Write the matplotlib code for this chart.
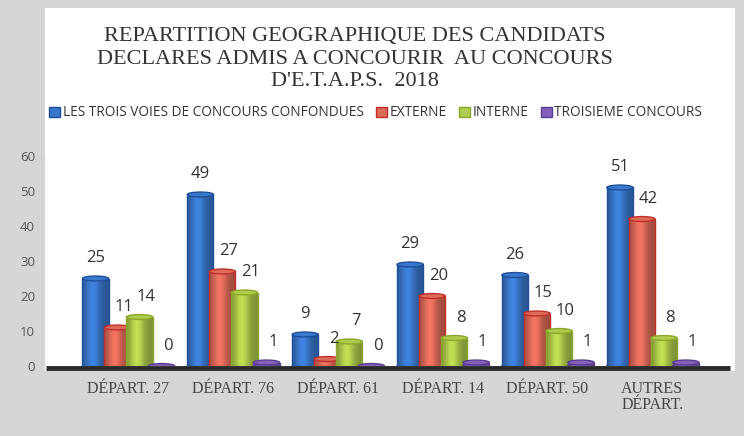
import matplotlib
matplotlib.use("Agg")
import matplotlib.pyplot as plt
import numpy as np
from matplotlib.patches import Ellipse, Rectangle
from matplotlib.colors import to_rgb

categories = ["DÉPART. 27", "DÉPART. 76", "DÉPART. 61", "DÉPART. 14", "DÉPART. 50", "AUTRES\nDÉPART."]
toutes = [25, 49, 9, 29, 26, 51]
externe = [11, 27, 2, 20, 15, 42]
interne = [14, 21, 7, 8, 10, 8]
troisieme = [0, 1, 0, 1, 1, 1]
noms = ["LES TROIS VOIES DE CONCOURS CONFONDUES", "EXTERNE", "INTERNE", "TROISIEME CONCOURS"]
couleurs = ["#3a78cc", "#de6a58", "#b0cc4c", "#8462bc"]
bords = ["#1f4f9a", "#c0302a", "#8aa82a", "#5a3c90"]

fig = plt.figure(figsize=(7.44, 4.36), dpi=100)
fig.patch.set_facecolor("#d6d6d6")
# zone blanche du graphique scanne
fig.patches.append(Rectangle((45 / 744, 1 - 371 / 436), 690 / 744, 363 / 436,
                             transform=fig.transFigure, facecolor="white",
                             edgecolor="none", zorder=-10))

ax = fig.add_axes([42 / 744, 1 - 366 / 436, 688 / 744, 210 / 436])
ax.set_facecolor("none")
ax.set_xlim(-0.82, 5.74)
ax.set_ylim(0, 60)

x = np.arange(len(categories))
series = [toutes, externe, interne, troisieme]
decalages = [-0.31, -0.10, 0.11, 0.32]
largeur = 0.25
cap = 1.4

# profil d'ombre pour l'effet cylindre
prof = np.linspace(-1, 1, 64)
ombre = 0.72 + 0.38 * np.exp(-((prof + 0.2) ** 2) / 0.3)

for k, vals in enumerate(series):
    base = np.array(to_rgb(couleurs[k]))
    img = np.clip(base[None, None, :] * ombre[None, :, None], 0, 1)
    for i, v in enumerate(vals):
        xc = x[i] + decalages[k]
        x0, x1 = xc - largeur / 2, xc + largeur / 2
        z = 3 + k
        if v > 0:
            im = ax.imshow(img, extent=(x0, x1, 0, v), aspect="auto",
                           origin="lower", zorder=z)
            clip = Rectangle((x0, 0), largeur, v, transform=ax.transData)
            im.set_clip_path(clip)
            ax.add_patch(Rectangle((x0, 0), largeur, v, facecolor="none",
                                   edgecolor=bords[k], lw=1.0, zorder=z))
            ax.add_patch(Ellipse((xc, 0), largeur, cap, facecolor=couleurs[k],
                                 edgecolor=bords[k], lw=1.0, zorder=z - 0.1))
        ax.add_patch(Ellipse((xc, v), largeur, cap, facecolor=couleurs[k],
                             edgecolor=bords[k], lw=1.0, zorder=z + 0.1))
        dx = 0 if k == 0 else 0.06
        ax.text(xc + dx, v + 5.8, str(v), ha="center", va="center",
                fontsize=12, color="#333333", family="Open Sans",
                zorder=10, clip_on=False)

# ligne de base sombre
ax.plot([-0.78, 5.74], [-0.6, -0.6], color="#2a2a2a", lw=3.5,
        solid_capstyle="butt", clip_on=False, zorder=2)

for s in ["top", "right", "bottom"]:
    ax.spines[s].set_visible(False)
ax.spines["left"].set_color("#cfcfcf")
ax.set_yticks(range(0, 61, 10))
ax.tick_params(axis="y", length=0, labelsize=9.5, labelcolor="#555555", pad=5)
ax.set_xticks(x)
ax.set_xticklabels(categories, family="Liberation Serif", fontsize=11.5,
                   color="#444444", linespacing=0.95)
ax.tick_params(axis="x", length=0, pad=11)
for lab in ax.get_yticklabels():
    lab.set_family("Open Sans")

fig.text(0.477, 1 - 27 / 436, "REPARTITION GEOGRAPHIQUE DES CANDIDATS\n"
         "DECLARES ADMIS A CONCOURIR  AU CONCOURS\nD'E.T.A.P.S.  2018",
         ha="center", va="top", family="Liberation Serif", fontsize=16,
         color="#333333", linespacing=1.26)

handles = [Rectangle((0, 0), 1, 1, facecolor=couleurs[k], edgecolor=bords[k])
           for k in range(4)]
fig.legend(handles, noms, loc="center", bbox_to_anchor=(0.505, 1 - 113 / 436),
           ncol=4, frameon=False, handlelength=0.8,
           handleheight=0.8, handletextpad=0.2, columnspacing=0.9,
           prop={"family": "Open Sans", "size": 9.8})
for t in fig.legends[0].get_texts():
    t.set_color("#333333")

fig.savefig("out.png", dpi=100, facecolor=fig.get_facecolor())
